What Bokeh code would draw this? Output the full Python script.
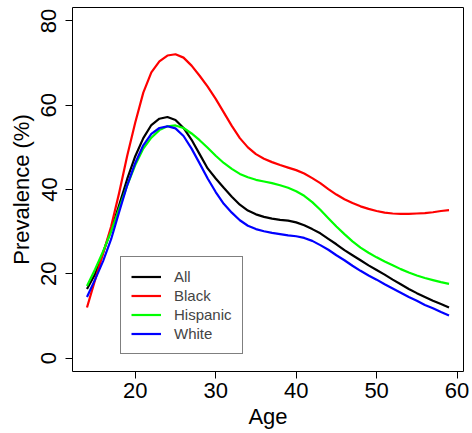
from bokeh.plotting import figure
from bokeh.models import Range1d, FixedTicker, Legend, LegendItem
from bokeh.embed import file_html
from bokeh.resources import INLINE

ages = list(range(14, 60))

all_prev = [16.4, 19.9, 25.0, 30.4, 36.3, 42.5, 47.9, 52.2, 55.3, 56.8,
            57.2, 56.5, 54.6, 51.8, 48.4, 45.0, 42.6, 40.4, 38.3, 36.4,
            35.0, 34.1, 33.5, 33.1, 32.8, 32.6, 32.2, 31.5, 30.6, 29.6,
            28.3, 27.0, 25.6, 24.4, 23.2, 22.0, 20.9, 19.8, 18.6, 17.5,
            16.4, 15.4, 14.5, 13.6, 12.8, 12.0]

black_prev = [12.0, 18.5, 24.8, 31.2, 39.2, 48.0, 55.9, 63.0, 67.8, 70.4,
              71.8, 72.1, 71.3, 69.4, 67.0, 64.4, 61.5, 58.3, 55.1, 52.2,
              50.0, 48.4, 47.3, 46.5, 45.8, 45.2, 44.6, 43.8, 42.7, 41.5,
              40.1, 38.8, 37.7, 36.8, 36.0, 35.4, 34.9, 34.5, 34.3, 34.2,
              34.2, 34.3, 34.4, 34.6, 34.9, 35.1]

hispanic_prev = [17.1, 21.0, 25.3, 30.0, 35.5, 41.0, 45.8, 49.7, 52.3, 54.1,
                 55.0, 55.2, 54.6, 53.3, 51.7, 49.9, 48.0, 46.3, 44.9, 43.7,
                 42.9, 42.3, 41.9, 41.5, 41.0, 40.4, 39.6, 38.5, 37.0, 35.2,
                 33.2, 31.2, 29.4, 27.7, 26.2, 25.0, 23.9, 22.9, 22.0, 21.1,
                 20.3, 19.6, 19.0, 18.5, 18.0, 17.6]

white_prev = [14.5, 18.6, 23.0, 28.2, 34.7, 41.0, 46.3, 50.5, 53.2, 54.6,
              55.0, 54.5, 52.7, 49.7, 46.2, 42.6, 39.4, 36.6, 34.5, 32.7,
              31.4, 30.6, 30.1, 29.7, 29.4, 29.1, 28.9, 28.5, 27.8, 26.8,
              25.7, 24.4, 23.2, 21.9, 20.7, 19.6, 18.6, 17.5, 16.5, 15.5,
              14.5, 13.6, 12.6, 11.8, 10.9, 10.1]

series_names = ["All", "Black", "Hispanic", "White"]
series_colors = ["black", "red", "#00FF00", "blue"]
x_ticks = [20, 30, 40, 50, 60]
y_ticks = [0, 20, 40, 60, 80]

FONT = "Liberation Sans"

p = figure(width=472, height=433, output_backend="svg", toolbar_location=None,
           x_range=Range1d(12.2, 60.8), y_range=Range1d(-3.2, 83.2),
           min_border_left=72, min_border_right=9, min_border_top=7,
           min_border_bottom=62)
p.grid.visible = False
p.background_fill_color = "white"
p.border_fill_color = "white"
p.outline_line_color = "black"
p.outline_line_width = 1

for ax in (p.xaxis[0], p.yaxis[0]):
    ax.axis_line_color = None
    ax.major_tick_line_color = "black"
    ax.major_tick_line_width = 1
    ax.major_tick_out = 7
    ax.major_tick_in = 0
    ax.minor_tick_line_color = None
    ax.major_label_text_font = FONT
    ax.major_label_text_font_size = "22px"
    ax.major_label_text_color = "black"
    ax.axis_label_text_font = FONT
    ax.axis_label_text_font_size = "22px"
    ax.axis_label_text_font_style = "normal"
    ax.axis_label_text_color = "black"

p.xaxis.ticker = FixedTicker(ticks=x_ticks)
p.yaxis.ticker = FixedTicker(ticks=y_ticks)
p.xaxis.axis_label = "Age"
p.yaxis.axis_label = "Prevalence (%)"
p.xaxis.major_label_standoff = 4
p.xaxis.axis_label_standoff = 3
p.yaxis.major_label_standoff = 9
p.yaxis.axis_label_standoff = 5
p.yaxis.major_label_orientation = "vertical"

renderers = []
for vals, col in zip([all_prev, black_prev, hispanic_prev, white_prev], series_colors):
    r = p.line(ages, vals, line_color=col, line_width=2.2, line_join="round")
    renderers.append(r)

legend = Legend(items=[LegendItem(label=n, renderers=[r]) for n, r in zip(series_names, renderers)],
                location=(48, 17))
legend.label_text_font = FONT
legend.label_text_font_size = "15px"
legend.label_height = 19
legend.glyph_height = 19
legend.glyph_width = 30
legend.label_standoff = 13
legend.spacing = 0
legend.padding = 10
legend.border_line_color = "black"
legend.border_line_width = 1
legend.background_fill_color = "white"
legend.background_fill_alpha = 1
p.add_layout(legend)

open("out.html", "w").write(file_html(p, INLINE))
